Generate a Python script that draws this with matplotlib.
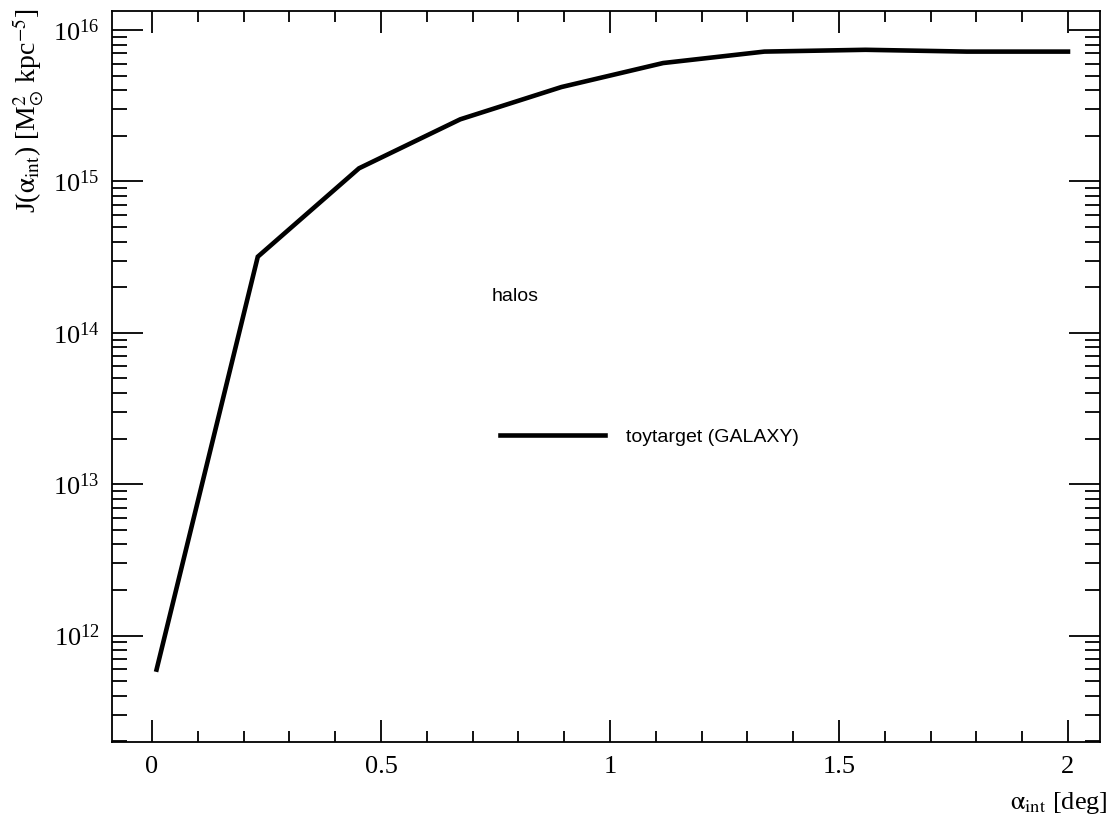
import numpy as np
import matplotlib
matplotlib.use("Agg")
import matplotlib.pyplot as plt
from matplotlib.ticker import FixedLocator, LogLocator, NullFormatter

# integration angle [deg] and J-factor [Msun^2 kpc^-5]
alpha_int = [0.01, 0.231, 0.452, 0.673, 0.894, 1.116, 1.337, 1.558, 1.779, 2.0]
j_factor = [5.96e11, 3.18e14, 1.22e15, 2.57e15, 4.2e15, 6.05e15, 7.2e15, 7.4e15, 7.2e15, 7.2e15]
series_name = "toytarget (GALAXY)"
header = "halos"

plt.rcParams['mathtext.fontset'] = 'stix'
serif = ['Liberation Serif', 'DejaVu Serif']
sans = ['Liberation Sans', 'DejaVu Sans']

fig = plt.figure(figsize=(11.15, 8.25), dpi=100)
ax = fig.add_axes([112 / 1115, 1 - 742 / 825, 988 / 1115, 731 / 825])

ax.plot(alpha_int, j_factor, color='black', lw=3.3, solid_joinstyle='miter',
        label=series_name)

ax.set_yscale('log')
ax.set_xlim(-0.0873, 2.0699)
ax.set_ylim(10 ** 11.297, 10 ** 16.1255)

ax.xaxis.set_major_locator(FixedLocator([0, 0.5, 1, 1.5, 2]))
ax.xaxis.set_minor_locator(FixedLocator(np.arange(-0.0, 2.05, 0.1)))
ax.set_xticklabels(['0', '0.5', '1', '1.5', '2'])
ax.yaxis.set_major_locator(LogLocator(base=10, numticks=20))
ax.yaxis.set_minor_locator(LogLocator(base=10, subs=np.arange(2, 10), numticks=20))
ax.yaxis.set_minor_formatter(NullFormatter())

ax.tick_params(axis='both', which='both', direction='in', top=True, right=True,
               color='black', width=1.3)
ax.tick_params(axis='x', which='major', length=16, pad=10)
ax.tick_params(axis='x', which='minor', length=8)
ax.tick_params(axis='y', which='major', length=22, pad=9)
ax.tick_params(axis='y', which='minor', length=11)
for lab in ax.get_xticklabels() + ax.get_yticklabels():
    lab.set_fontfamily(serif)
    lab.set_fontsize(19)
for s in ax.spines.values():
    s.set_linewidth(1.3)

fig.text(1108 / 1115, 1 - 803 / 825, r'$\mathrm{\alpha}_{\rm int}$ [deg]', ha='right', va='center',
         fontsize=19, family=serif)
fig.text(28 / 1115, 1 - 8 / 825,
         r'J($\mathrm{\alpha}_{\rm int}$) [M$_{\odot}^{2}$ kpc$^{-5}$]',
         rotation=90, ha='center', va='top', fontsize=20, family=serif)

ax.text(0.3846, 0.609, header, transform=ax.transAxes, ha='left', va='center',
        fontsize=14, family=sans)
leg = ax.legend(loc='center left', bbox_to_anchor=(0.3927, 0.417), frameon=False,
                borderpad=0, borderaxespad=0, handlelength=5.4, handletextpad=1.1,
                prop={'family': sans, 'size': 14})

fig.savefig('out.png', dpi=100)
